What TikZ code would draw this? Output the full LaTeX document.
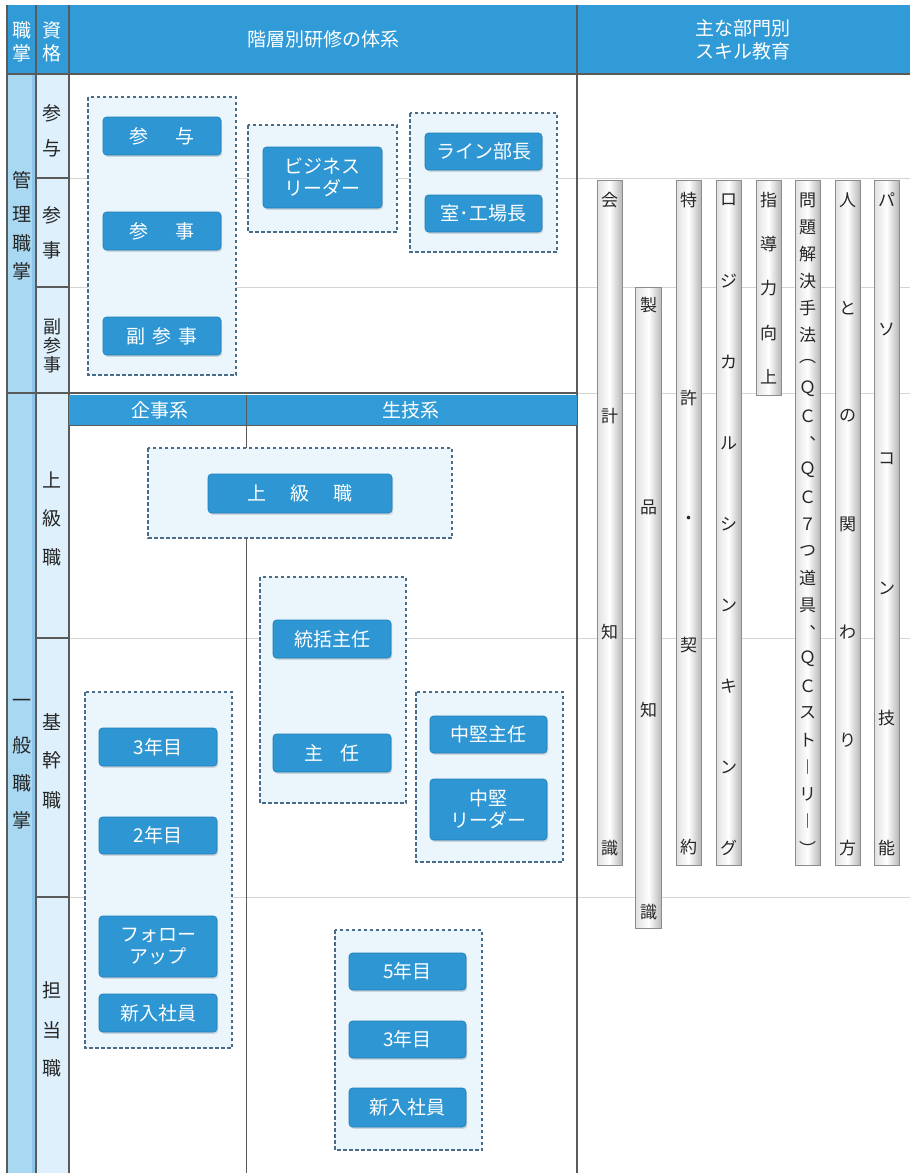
\documentclass[tikz,border=0pt]{standalone}
\usepackage{fontspec}
\setmainfont{Noto Sans CJK JP}
\usetikzlibrary{shadows}
\definecolor{hdr}{HTML}{319BD8}
\definecolor{btnc}{HTML}{2E96D3}
\definecolor{btnd}{HTML}{1F7DB6}
\definecolor{colA}{HTML}{A9D8F2}
\definecolor{colAs}{HTML}{8CC6EA}
\definecolor{colB}{HTML}{DDF0FB}
\definecolor{boxf}{HTML}{EBF5FC}
\definecolor{boxd}{HTML}{4A6C88}
\definecolor{gridc}{HTML}{D4D4D4}
\definecolor{darkl}{HTML}{5A5A5A}
\newcommand\vchars[6]{%
  \foreach \c [count=\i] in {#5} {
    \pgfmathsetmacro\yy{#2+(\i-1)*(#3-#2)/(#4-1)}
    \node[bart] (#6-\i) at (#1,\yy) {\c};
  }}
\begin{document}
\begin{tikzpicture}[x=1pt,y=-1pt,
  btn/.style={draw=btnd, line width=0.6pt, fill=btnc, rounded corners=3.5pt, text=white,
    font=\fontsize{19}{22}\selectfont, align=center, inner sep=0pt,
    drop shadow={opacity=0.3, shadow xshift=1.2pt, shadow yshift=-1.8pt, fill=black!45}},
  grp/.style={draw=boxd, fill=boxf, dash pattern=on 3.5pt off 2.5pt, line width=1.3pt},
  lbl/.style={font=\fontsize{19}{19}\selectfont, text=black!85, inner sep=0pt},
  hdrt/.style={font=\fontsize{19}{23}\selectfont, text=white, inner sep=0pt, align=center},
  bar/.style={draw=black!45, line width=0.8pt, left color=black!12, right color=black!28, middle color=white, inner sep=0pt},
  bart/.style={font=\fontsize{17}{17}\selectfont, inner sep=0pt, text=black!85},
  gridl/.style={draw=gridc, line width=0.8pt},
  dk/.style={draw=darkl, line width=1.2pt}
]
\useasboundingbox (0,0) rectangle (910,1173);
\fill[white] (0,0) rectangle (910,1173);
% header
\fill[hdr] (7,5) rectangle (910,74);
% left columns
\fill[colA] (7,74) rectangle (36,1173);
\fill[colAs] (32,74) rectangle (36,1173);
\fill[colB] (36,74) rectangle (69,1173);
% grid lines
\foreach \yy in {178,287,638,897} {
  \draw[gridl] (69,\yy) -- (910,\yy);
  \draw[dk] (36,\yy) -- (69,\yy);
}
\draw[gridl] (577,393) -- (910,393);
\draw[dk] (7,393) -- (577,393);
\draw[dk] (7,74) -- (910,74);
\draw[dk] (7,5) -- (7,1173);
\draw[dk] (36,5) -- (36,1173);
\draw[dk] (69,5) -- (69,1173);
\draw[dk] (577,5) -- (577,1173);
% header texts
\node[hdrt] (h1a) at (22,30) {職};
\node[hdrt] (h1b) at (22,53) {掌};
\node[hdrt] (h2a) at (52,30) {資};
\node[hdrt] (h2b) at (52,53) {格};
\node[hdrt] (h3) at (323,39) {階層別研修の体系};
\node[hdrt] (h4) at (743,40) {主な部門別\\スキル教育};
% column 1 labels
\node[lbl] (k1) at (22,180) {管};
\node[lbl] (k2) at (22,214) {理};
\node[lbl] (k3) at (22,243) {職};
\node[lbl] (k4) at (22,271) {掌};
\node[lbl] (i1) at (22,703) {一};
\node[lbl] (i2) at (22,745) {般};
\node[lbl] (i3) at (22,783) {職};
\node[lbl] (i4) at (22,820) {掌};
% column 2 labels
\node[lbl] (s1) at (52,113) {参};
\node[lbl] (s2) at (52,148) {与};
\node[lbl] (s3) at (52,215) {参};
\node[lbl] (s4) at (52,250) {事};
\node[lbl,font=\fontsize{18}{18}\selectfont] (s5) at (52,327) {副};
\node[lbl,font=\fontsize{18}{18}\selectfont] (s6) at (52,346) {参};
\node[lbl,font=\fontsize{18}{18}\selectfont] (s7) at (52,365) {事};
\node[lbl] (j1) at (52,480) {上};
\node[lbl] (j2) at (52,518) {級};
\node[lbl] (j3) at (52,557) {職};
\node[lbl] (c1) at (52,722) {基};
\node[lbl] (c2) at (52,760) {幹};
\node[lbl] (c3) at (52,800) {職};
\node[lbl] (t1) at (52,990) {担};
\node[lbl] (t2) at (52,1030) {当};
\node[lbl] (t3) at (52,1068) {職};
% sub header
\fill[hdr] (69,395) rectangle (577,425);
\draw[darkl,line width=0.8pt] (69,425) -- (577,425);
\draw[darkl,line width=1pt] (246.5,395) -- (246.5,425);
\node[hdrt] (sh1) at (160,410) {企事系};
\node[hdrt] (sh2) at (411,410) {生技系};
\draw[darkl,line width=1pt] (246.5,425) -- (246.5,448);
\draw[darkl,line width=1pt] (246.5,538) -- (246.5,1173);
% group boxes
\draw[grp] (88,97) rectangle (236,375);
\draw[grp] (248,125) rectangle (397,232);
\draw[grp] (410,113) rectangle (557,252);
\draw[grp] (148,448) rectangle (452,538);
\draw[grp] (260,577) rectangle (406,803);
\draw[grp] (416,692) rectangle (563,862);
\draw[grp] (85,692) rectangle (232,1048);
\draw[grp] (335,930) rectangle (482,1150);
% buttons
\node[btn, minimum width=118, minimum height=38] (sanyo) at (162,136) {参\hspace{27pt}与};
\node[btn, minimum width=118, minimum height=38] (sanji) at (162,231) {参\hspace{27pt}事};
\node[btn, minimum width=118, minimum height=38] (fuku) at (162,336) {副\hspace{7pt}参\hspace{7pt}事};
\node[btn, minimum width=119, minimum height=61] (biz) at (322.5,177.5) {ビジネス\\リーダー};
\node[btn, minimum width=117, minimum height=37] (line) at (483.5,151.5) {ライン部長};
\node[btn, minimum width=117, minimum height=37] (shitsu) at (483.5,213.5) {室･工場長};
\node[btn, minimum width=184, minimum height=39] (joukyu) at (300,493.5) {上\hspace{24pt}級\hspace{24pt}職};
\node[btn, minimum width=118, minimum height=38] (toukatsu) at (332,639) {統括主任};
\node[btn, minimum width=118, minimum height=38] (shunin) at (332,753) {主\hspace{18pt}任};
\node[btn, minimum width=117, minimum height=37] (chuken) at (488.5,734.5) {中堅主任};
\node[btn, minimum width=117, minimum height=61] (chukenl) at (488.5,809.5) {中堅\\リーダー};
\node[btn, minimum width=118, minimum height=38] (y3a) at (158,747) {3年目};
\node[btn, minimum width=118, minimum height=37] (y2a) at (158,835.5) {2年目};
\node[btn, minimum width=118, minimum height=61] (follow) at (158,946.5) {フォロー\\アップ};
\node[btn, minimum width=118, minimum height=38] (newa) at (158,1013) {新入社員};
\node[btn, minimum width=117, minimum height=37] (y5b) at (407.5,971.5) {5年目};
\node[btn, minimum width=117, minimum height=37] (y3b) at (407.5,1039.5) {3年目};
\node[btn, minimum width=117, minimum height=39] (newb) at (407.5,1107.5) {新入社員};
% skill bars
\node[bar, minimum width=25, minimum height=685] (b1) at (609.5,522.5) {};
\node[bar, minimum width=26, minimum height=641] (b2) at (648.5,607.5) {};
\node[bar, minimum width=25, minimum height=685] (b3) at (688.5,522.5) {};
\node[bar, minimum width=25, minimum height=685] (b4) at (728.5,522.5) {};
\node[bar, minimum width=25, minimum height=215] (b5) at (768.5,287.5) {};
\node[bar, minimum width=25, minimum height=685] (b6) at (807.5,522.5) {};
\node[bar, minimum width=25, minimum height=685] (b7) at (847.5,522.5) {};
\node[bar, minimum width=25, minimum height=685] (b8) at (886.5,522.5) {};
\vchars{609.5}{200}{848}{4}{会,計,知,識}{t1x}
\vchars{648.5}{305}{912}{4}{製,品,知,識}{t2x}
\node[bart] (t3x-1) at (688.5,200) {特};
\node[bart] (t3x-2) at (688.5,398) {許};
\node[bart] (t3x-3) at (688.5,520) {・};
\node[bart] (t3x-4) at (688.5,645) {契};
\node[bart] (t3x-5) at (688.5,847) {約};
\vchars{728.5}{200}{848}{9}{ロ,ジ,カ,ル,シ,ン,キ,ン,グ}{t4x}
\vchars{768.5}{200}{377}{5}{指,導,力,向,上}{t5x}
\vchars{807.5}{200}{848}{25}{問,題,解,決,手,法,︵,Ｑ,Ｃ,︑,Ｑ,Ｃ,７,つ,道,具,︑,Ｑ,Ｃ,ス,ト,︱,リ,︱,︶}{t6x}
\vchars{847.5}{200}{848}{7}{人,と,の,関,わ,り,方}{t7x}
\vchars{886.5}{200}{848}{6}{パ,ソ,コ,ン,技,能}{t8x}
\end{tikzpicture}
\end{document}
